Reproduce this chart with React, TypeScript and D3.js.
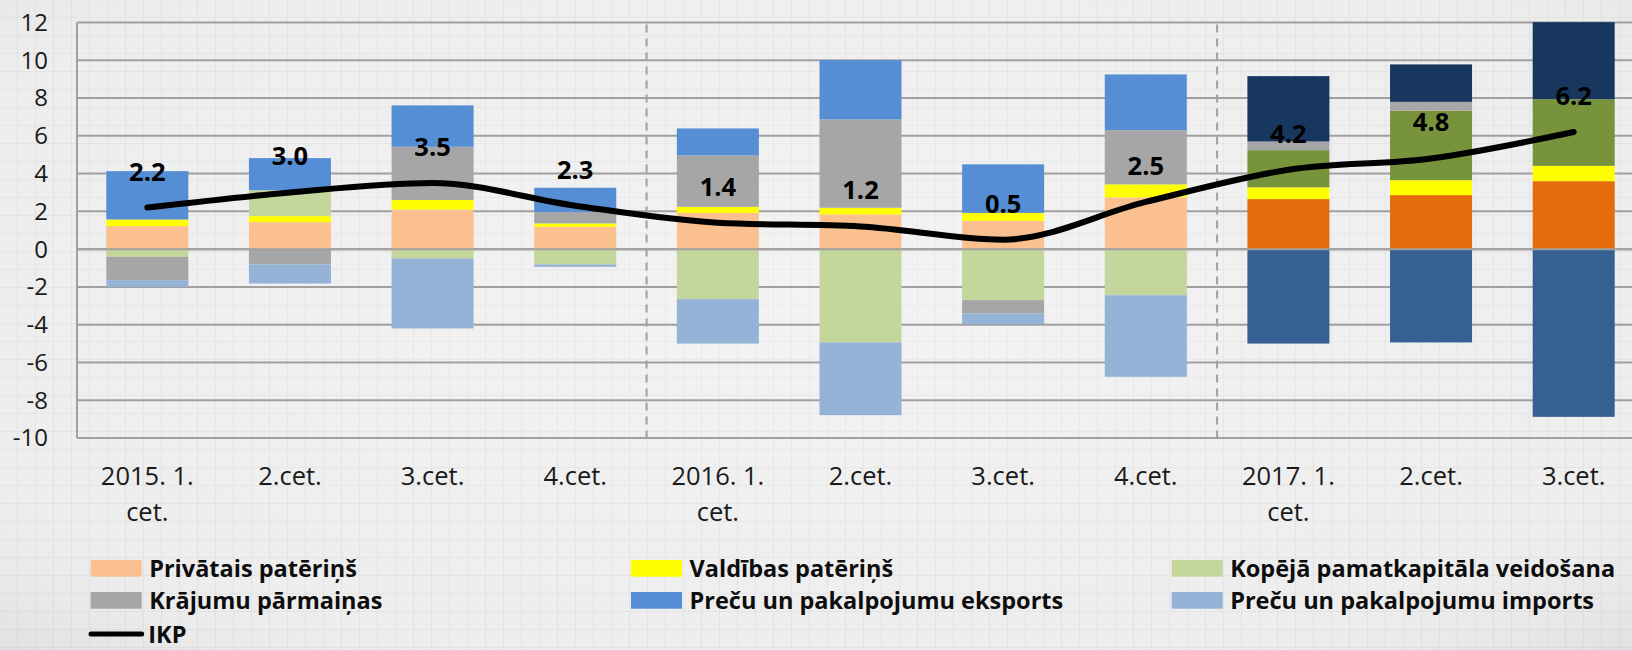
import * as d3 from "d3";

// quarters and their (wrapped) axis labels
const quarters = ["2015Q1", "2015Q2", "2015Q3", "2015Q4", "2016Q1", "2016Q2", "2016Q3", "2016Q4", "2017Q1", "2017Q2", "2017Q3"];
const quarterLabels = [
  ["2015. 1.", "cet."], ["2.cet."], ["3.cet."], ["4.cet."],
  ["2016. 1.", "cet."], ["2.cet."], ["3.cet."], ["4.cet."],
  ["2017. 1.", "cet."], ["2.cet."], ["3.cet."],
];
// quarters where a new year starts (dashed separator before them)
const yearStarts = ["2016Q1", "2017Q1"];
// last quarters drawn in darker colours
const highlighted = ["2017Q1", "2017Q2", "2017Q3"];

// contributions to GDP growth, percentage points
const privateCons = [1.22, 1.43, 2.1, 1.18, 1.92, 1.84, 1.5, 2.74, 2.65, 2.86, 3.6];
const govCons = [0.35, 0.32, 0.5, 0.18, 0.32, 0.35, 0.42, 0.69, 0.62, 0.79, 0.81];
const fixedCapital = [-0.41, 1.37, -0.49, -0.81, -2.65, -4.94, -2.7, -2.44, 1.97, 3.68, 3.53];
const inventories = [-1.23, -0.81, 2.82, 0.6, 2.72, 4.68, -0.71, 2.87, 0.46, 0.47, 0];
const exportsC = [2.56, 1.7, 2.19, 1.29, 1.43, 3.14, 2.57, 2.95, 3.46, 1.98, 4.08];
const importsC = [-0.36, -1.01, -3.71, -0.13, -2.35, -3.85, -0.56, -4.32, -5.0, -4.94, -8.88];
const gdp = [2.2, 3.0, 3.5, 2.3, 1.4, 1.2, 0.5, 2.5, 4.2, 4.8, 6.2];

const yTicks = [-10, -8, -6, -4, -2, 0, 2, 4, 6, 8, 10, 12];

const seriesKeys = ["priv", "gov", "gfcf", "inv", "exp", "imp"];
const seriesNames = [
  "Privātais patēriņš",
  "Valdības patēriņš",
  "Kopējā pamatkapitāla veidošana",
  "Krājumu pārmaiņas",
  "Preču un pakalpojumu eksports",
  "Preču un pakalpojumu imports",
];
const seriesColors = ["#FAC090", "#FFFF00", "#C3D69B", "#A6A6A6", "#558ED5", "#95B3D7"];
const seriesColorsDark = ["#E46C0A", "#FFFF00", "#77933C", "#A6A6A6", "#17375E", "#376092"];
const lineName = "IKP";

const W = 1632;
const H = 650;
const margin = { top: 22.5, left: 77, right: 1645, bottom: 438 };
const FONT = "'Open Sans', 'Noto Sans', sans-serif";

export default function App() {
  const rows = quarters.map((q, i) => ({
    q,
    priv: privateCons[i],
    gov: govCons[i],
    gfcf: fixedCapital[i],
    inv: inventories[i],
    exp: exportsC[i],
    imp: importsC[i],
  }));

  const stacked = d3.stack<any>().keys(seriesKeys).offset(d3.stackOffsetDiverging)(rows);

  const x = d3
    .scaleBand()
    .domain(quarters)
    .range([margin.left - 1, margin.right])
    .paddingInner(0.425)
    .paddingOuter(0.2125);
  const y = d3.scaleLinear().domain([-10, 12]).range([margin.bottom, margin.top]);
  const cx = (q: string) => (x(q) as number) + x.bandwidth() / 2;
  const gap = (x.step() - x.bandwidth()) / 2;

  const line = d3
    .line<number>()
    .x((_, i) => cx(quarters[i]))
    .y((d) => y(d))
    .curve(d3.curveMonotoneX);

  const legendCols = [90.7, 631, 1171.7];
  const legendRows = [560, 592];
  const legendFont = 23.5;

  return (
    <svg
      width={W}
      height={H}
      style={{ position: "absolute", left: 0, top: 0, display: "block" }}
      fontFamily={FONT}
    >
      <defs>
        <pattern id="paper" width="18" height="18" patternUnits="userSpaceOnUse">
          <rect width="18" height="18" fill="#EEEEEE" />
          <path d="M17.5 0 V18 M0 17.5 H18" stroke="#E4E4E4" strokeWidth="1.2" fill="none" />
        </pattern>
        <radialGradient id="vignette" cx="50%" cy="45%" r="75%">
          <stop offset="0%" stopColor="#ffffff" stopOpacity="0.3" />
          <stop offset="70%" stopColor="#ffffff" stopOpacity="0" />
          <stop offset="100%" stopColor="#000000" stopOpacity="0.06" />
        </radialGradient>
      </defs>
      <rect width={W} height={H} fill="url(#paper)" />
      <rect width={W} height={H} fill="url(#vignette)" />

      {/* gridlines */}
      {yTicks.map((t) => (
        <line key={t} x1={margin.left} x2={margin.right} y1={y(t)} y2={y(t)} stroke="#A0A0A0" strokeWidth={2} />
      ))}
      <line x1={margin.left} x2={margin.left} y1={y(12)} y2={y(-10)} stroke="#A0A0A0" strokeWidth={2} />

      {/* year separators */}
      {yearStarts.map((q) => (
        <line
          key={q}
          x1={(x(q) as number) - gap}
          x2={(x(q) as number) - gap}
          y1={y(12) + 2}
          y2={y(-10) - 1}
          stroke="#A0A0A0"
          strokeWidth={2}
          strokeDasharray="8 6"
        />
      ))}

      {/* y tick labels */}
      {yTicks.map((t) => (
        <text key={t} x={48} y={y(t)} dy="0.35em" textAnchor="end" fontSize={24} fill="#1a1a1a">
          {t}
        </text>
      ))}

      {/* stacked bars */}
      {stacked.map((s, si) => (
        <g key={s.key}>
          {s.map((d, i) => {
            const h = Math.abs(y(d[0]) - y(d[1]));
            if (h < 0.01) return null;
            const dark = highlighted.includes(quarters[i]);
            return (
              <rect
                key={i}
                x={x(quarters[i])}
                y={Math.min(y(d[0]), y(d[1]))}
                width={x.bandwidth()}
                height={h}
                fill={dark ? seriesColorsDark[si] : seriesColors[si]}
              />
            );
          })}
        </g>
      ))}

      {/* zero axis over the bars */}
      <line x1={margin.left} x2={margin.right} y1={y(0)} y2={y(0)} stroke="#A0A0A0" strokeWidth={2} />

      {/* GDP line */}
      <path d={line(gdp) || ""} fill="none" stroke="#000" strokeWidth={6} strokeLinecap="round" strokeLinejoin="round" />

      {/* GDP labels */}
      {gdp.map((v, i) => (
        <text
          key={i}
          x={cx(quarters[i])}
          y={y(v) - 27}
          textAnchor="middle"
          fontSize={25.5}
          fontWeight="bold"
          fill="#000"
        >
          {v.toFixed(1)}
        </text>
      ))}

      {/* x axis labels */}
      {quarterLabels.map((lines, i) => (
        <text key={i} x={cx(quarters[i])} y={485} textAnchor="middle" fontSize={25.5} fill="#1a1a1a">
          {lines.map((l, j) => (
            <tspan key={j} x={cx(quarters[i])} dy={j === 0 ? 0 : 36}>
              {l}
            </tspan>
          ))}
        </text>
      ))}

      {/* legend */}
      {seriesNames.map((name, i) => {
        const lx = legendCols[i % 3];
        const ly = legendRows[Math.floor(i / 3)];
        return (
          <g key={name}>
            <rect x={lx} y={ly} width={51} height={16.7} fill={seriesColors[i]} />
            <text x={lx + 58.5} y={ly + 16.7} fontSize={legendFont} fontWeight="bold" fill="#0d0d0d">
              {name}
            </text>
          </g>
        );
      })}
      <line x1={91} x2={141.7} y1={634} y2={634} stroke="#000" strokeWidth={5} strokeLinecap="round" />
      <text x={148.3} y={642.5} fontSize={legendFont} fontWeight="bold" fill="#0d0d0d">
        {lineName}
      </text>
    </svg>
  );
}
